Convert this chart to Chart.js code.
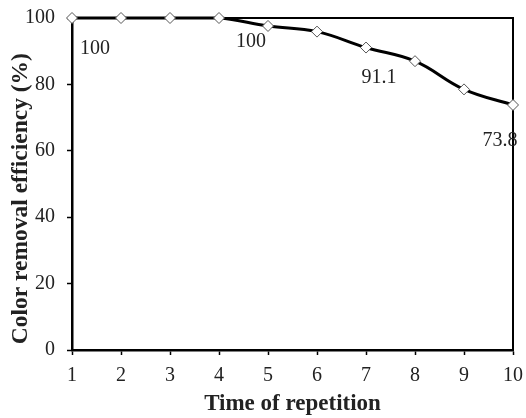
<!DOCTYPE html>
<html>
<head>
<meta charset="utf-8">
<script src="https://cdn.jsdelivr.net/npm/chart.js@4.4.1/dist/chart.umd.min.js"></script>
<style>
  html, body { margin: 0; padding: 0; background: #fff; }
  #wrap { width: 526px; height: 418px; }
</style>
</head>
<body>
<div id="wrap"><canvas id="chart"></canvas></div>
<script>
// repetition number and colour removal efficiency (%)
const repetitions = [1, 2, 3, 4, 5, 6, 7, 8, 9, 10];
const efficiency = [100, 100, 100, 100, 97.6, 95.9, 91.1, 87.0, 78.5, 73.8];
// which points carry a value label
const labelled = [0, 3, 6, 9];
const yTicks = [0, 20, 40, 60, 80, 100];

const serif = "'Liberation Serif', 'Times New Roman', serif";

// box around the plot (top and right edges)
const frame = {
    id: 'frame',
    beforeDatasetsDraw(chart) {
        const {ctx, chartArea: a} = chart;
        ctx.save();
        ctx.strokeStyle = '#000';
        ctx.lineWidth = 2;
        ctx.beginPath();
        ctx.moveTo(a.left, a.top);
        ctx.lineTo(a.right, a.top);
        ctx.lineTo(a.right, a.bottom);
        ctx.stroke();
        ctx.restore();
    }
};

// value labels below selected points
const valueLabels = {
    id: 'valueLabels',
    afterDatasetsDraw(chart) {
        const {ctx} = chart;
        const meta = chart.getDatasetMeta(0);
        const offsets = {0: [23, 31], 3: [32, 24], 6: [13, 30], 9: [-13, 36]};
        ctx.save();
        ctx.font = '20px ' + serif;
        ctx.fillStyle = '#222';
        ctx.textAlign = 'center';
        ctx.textBaseline = 'middle';
        labelled.forEach(i => {
            const p = meta.data[i];
            const [dx, dy] = offsets[i];
            const v = efficiency[i];
            ctx.fillText(Number.isInteger(v) ? String(v) : v.toFixed(1), p.x + dx, p.y + dy);
        });
        ctx.restore();
    }
};

new Chart(document.getElementById('chart'), {
    type: 'line',
    data: {
        datasets: [{
            data: repetitions.map((x, i) => ({x: x, y: efficiency[i]})),
            borderColor: '#000',
            borderWidth: 3,
            tension: 0.4,
            pointStyle: 'rectRot',
            pointRadius: 5.5,
            pointBackgroundColor: '#fff',
            pointBorderColor: '#555',
            pointBorderWidth: 1,
            clip: false
        }]
    },
    options: {
        responsive: true,
        maintainAspectRatio: false,
        animation: false,
        layout: { padding: {left: 4, right: 13, top: 18, bottom: 0} },
        plugins: { legend: {display: false}, tooltip: {enabled: false} },
        scales: {
            x: {
                type: 'linear',
                min: 1,
                max: 10,
                afterFit: s => { s.height = 68; s.paddingLeft = 0; s.paddingRight = 0; },
                ticks: { stepSize: 1, color: '#222', padding: 9, font: {family: serif, size: 20} },
                grid: { drawOnChartArea: false, drawTicks: true, tickLength: 5, color: '#000', tickWidth: 1.5 },
                border: { color: '#000', width: 2.5 },
                title: { display: true, text: 'Time of repetition', color: '#222', padding: {top: 0, bottom: 0},
                         font: {family: serif, size: 23, weight: 'bold'} }
            },
            y: {
                min: 0,
                max: 100,
                afterFit: s => { s.width = 68; s.paddingTop = 0; s.paddingBottom = 0; },
                afterBuildTicks: s => { s.ticks = yTicks.map(v => ({value: v})); },
                ticks: { color: '#222', padding: 12, font: {family: serif, size: 20} },
                grid: { drawOnChartArea: false, drawTicks: true, tickLength: 5, color: '#000', tickWidth: 1.5 },
                border: { color: '#000', width: 2.5 },
                title: { display: true, text: 'Color removal efficiency (%)     ', color: '#222', padding: {top: 3, bottom: 0},
                         font: {family: serif, size: 23.5, weight: 'bold'} }
            }
        }
    },
    plugins: [frame, valueLabels]
});
</script>
</body>
</html>
